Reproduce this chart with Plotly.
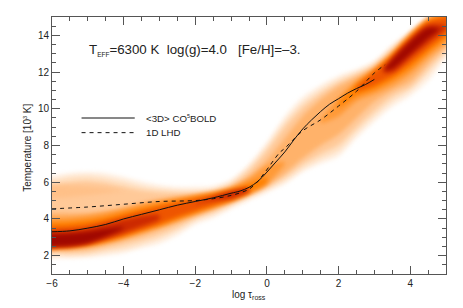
import plotly.graph_objects as go

# Reference lines
solid_x = [-6, -5.5, -5, -4.5, -4, -3.5, -3, -2.5, -2, -1.5, -1, -0.75, -0.5, -0.25, 0, 0.25, 0.5, 0.75, 1, 1.25, 1.5, 1.75, 2, 2.25, 2.5, 2.75, 3]
solid_t = [3.3, 3.35, 3.5, 3.7, 4.0, 4.25, 4.5, 4.75, 4.95, 5.15, 5.4, 5.52, 5.72, 6.05, 6.55, 7.1, 7.65, 8.3, 8.9, 9.4, 9.85, 10.25, 10.55, 10.85, 11.1, 11.32, 11.6]
dash_x = [-6, -5, -4, -3, -2, -1.5, -1, -0.75, -0.5, -0.3, -0.07, 0.35, 0.5, 1, 1.5, 2, 2.5, 3, 3.3]
dash_t = [4.55, 4.65, 4.8, 4.95, 5.0, 5.1, 5.28, 5.42, 5.62, 5.95, 6.5, 7.6, 7.85, 8.8, 9.4, 10.15, 10.95, 11.95, 12.4]

# Density band: lower and upper temperature of each colour level, per log tau
x_all = [-6.5, -6, -5.5, -5, -4.5, -4, -3.5, -3, -2.5, -2, -1.5, -1, -0.5, 0, 0.5, 1, 1.5, 2, 2.5, 3, 3.5, 4, 4.5, 5, 5.5]
l1_low = [1.8, 1.85, 1.85, 1.9, 2.0, 2.15, 2.4, 2.65, 3.1, 3.7, 4.05, 4.55, 5.0, 5.45, 5.9, 6.55, 7.0, 7.4, 8.4, 9.3, 10.1, 10.7, 11.5, 12.8, 13.8]
l1_high = [6.3, 6.35, 6.5, 6.55, 6.5, 6.3, 6.05, 5.85, 5.75, 5.75, 5.8, 6.15, 7.0, 8.2, 9.6, 10.65, 11.3, 11.8, 12.15, 12.6, 13.5, 14.25, 15.1, 16, 17]
l2_low = [1.95, 2.0, 2.0, 2.05, 2.2, 2.35, 2.6, 2.9, 3.35, 3.9, 4.25, 4.7, 5.15, 5.6, 6.1, 6.75, 7.25, 7.7, 8.7, 9.6, 10.4, 11.0, 11.9, 13.0, 14]
l2_high = [6.1, 6.15, 6.3, 6.35, 6.25, 6.05, 5.8, 5.65, 5.55, 5.55, 5.65, 6.0, 6.8, 7.95, 9.3, 10.35, 11.05, 11.6, 12.0, 12.5, 13.35, 14.15, 15.0, 15.8, 16.8]
l3_low = [2.1, 2.15, 2.15, 2.2, 2.4, 2.6, 2.85, 3.15, 3.55, 4.05, 4.4, 4.85, 5.3, 5.75, 6.3, 7.0, 7.55, 8.05, 9.0, 9.9, 10.7, 11.2, 12.2, 13.2, 14.2]
l3_high = [5.85, 5.9, 6.0, 6.05, 5.95, 5.75, 5.55, 5.45, 5.4, 5.4, 5.5, 5.85, 6.6, 7.7, 9.0, 10.05, 10.8, 11.4, 11.85, 12.35, 13.2, 14.1, 14.95, 15.6, 16.6]
l4_low = [2.25, 2.3, 2.3, 2.4, 2.6, 2.85, 3.1, 3.45, 3.8, 4.2, 4.55, 4.95, 5.4, 5.85, 6.5, 7.3, 8.0, 8.6, 9.5, 10.4, 11.0, 11.5, 12.5, 13.4, 14.4]
l4_high = [4.25, 4.3, 4.3, 4.3, 4.4, 4.6, 4.85, 5.0, 5.15, 5.25, 5.4, 5.7, 6.3, 7.2, 8.4, 9.6, 10.5, 11.2, 11.7, 12.25, 13.1, 14.05, 14.9, 15.5, 16.5]

lobe_x = [-6.5, -6, -5.5, -5, -4.5, -4]
lobe_low = [5.1, 5.15, 5.2, 5.3, 5.4, 5.55]
lobe_high = [5.8, 5.8, 5.8, 5.75, 5.65, 5.55]

x_left5 = [-6.5, -6, -5.5, -5, -4.5, -4, -3.5, -3, -2.5, -2, -1.5, -1, -0.5, 0, 0.5]
l5a_low = [2.3, 2.35, 2.4, 2.5, 2.7, 2.95, 3.25, 3.55, 3.9, 4.25, 4.6, 4.95, 5.35, 5.9, 7.0]
l5a_high = [4.0, 4.05, 4.1, 4.2, 4.35, 4.55, 4.8, 5.0, 5.15, 5.3, 5.45, 5.7, 6.2, 6.9, 7.1]
x_right5 = [1.5, 2, 2.5, 3, 3.5, 4, 4.5, 5, 5.5]
l5b_low = [9.2, 9.6, 10.4, 10.8, 11.25, 11.9, 12.8, 13.6, 14.6]
l5b_high = [9.4, 10.6, 11.5, 12.15, 13.0, 14.0, 14.85, 15.4, 16.4]

x_left6 = [-6.5, -6, -5.5, -5, -4.5, -4, -3.5, -3, -2.5, -2, -1.5, -1, -0.5, 0]
l6a_low = [2.4, 2.42, 2.47, 2.58, 2.78, 3.03, 3.35, 3.65, 4.0, 4.35, 4.68, 5.0, 5.42, 6.0]
l6a_high = [3.75, 3.8, 3.85, 3.95, 4.12, 4.35, 4.6, 4.82, 5.02, 5.2, 5.38, 5.62, 5.95, 6.25]
x_right6 = [2, 2.5, 3, 3.5, 4, 4.5, 5, 5.5]
l6b_low = [10.05, 10.7, 11.05, 11.55, 12.2, 13.05, 13.85, 14.85]
l6b_high = [10.35, 11.35, 12.1, 12.95, 13.95, 14.8, 15.2, 16.2]

x_left7 = [-6.5, -6, -5.5, -5, -4.5, -4, -3.5, -3, -2.5, -2, -1.5, -1, -0.5]
l7a_low = [2.45, 2.47, 2.52, 2.63, 2.85, 3.12, 3.42, 3.75, 4.12, 4.45, 4.76, 5.07, 5.5]
l7a_high = [3.5, 3.55, 3.6, 3.7, 3.9, 4.15, 4.4, 4.65, 4.88, 5.08, 5.28, 5.52, 5.7]
x_right7 = [2.5, 3, 3.5, 4, 4.5, 5, 5.5]
l7b_low = [10.95, 11.3, 11.8, 12.5, 13.3, 14.1, 15]
l7b_high = [11.2, 12.0, 12.85, 13.85, 14.7, 15.0, 15.1]

x_left8 = [-6.5, -6, -5.5, -5, -4.5, -4, -3.5, -3]
l8a_low = [2.42, 2.45, 2.5, 2.65, 2.93, 3.25, 3.6, 4.0]
l8a_high = [3.25, 3.3, 3.35, 3.47, 3.7, 3.95, 4.15, 4.2]
x_mid8 = [-2, -1.5, -1, -0.5]
l8m_low = [4.8, 5.0, 5.12, 5.55]
l8m_high = [4.85, 5.2, 5.5, 5.65]
x_right8 = [3.25, 3.5, 4, 4.5, 5]
l8b_low = [11.95, 12.0, 12.8, 13.6, 14.4]
l8b_high = [12.0, 12.75, 13.75, 14.55, 14.5]

x_left9 = [-6.5, -6, -5.5, -5, -4.5, -4]
l9a_low = [2.47, 2.5, 2.55, 2.7, 3.05, 3.5]
l9a_high = [3.1, 3.15, 3.2, 3.3, 3.45, 3.55]
x_right9 = [3.25, 3.5, 4, 4.5, 4.8]
l9b_low = [12.1, 12.2, 13.0, 13.85, 14.3]
l9b_high = [12.15, 12.65, 13.65, 14.4, 14.35]

bands = [
    (x_all, l1_low, l1_high, "#fff0e2"),
    (x_all, l2_low, l2_high, "#ffdfc0"),
    (x_all, l3_low, l3_high, "#ffc998"),
    (lobe_x, lobe_low, lobe_high, "#ffc088"),
    (x_all, l4_low, l4_high, "#ffb26a"),
    (x_left5, l5a_low, l5a_high, "#ff9a38"),
    (x_right5, l5b_low, l5b_high, "#ff9a38"),
    (x_left6, l6a_low, l6a_high, "#ff8000"),
    (x_right6, l6b_low, l6b_high, "#ff8000"),
    (x_left7, l7a_low, l7a_high, "#ee5500"),
    (x_right7, l7b_low, l7b_high, "#ee5500"),
    (x_left8, l8a_low, l8a_high, "#cc2a00"),
    (x_mid8, l8m_low, l8m_high, "#cc2a00"),
    (x_right8, l8b_low, l8b_high, "#cc2a00"),
    (x_left9, l9a_low, l9a_high, "#a00800"),
    (x_right9, l9b_low, l9b_high, "#a00800"),
]

fig = go.Figure()
for xs, low, high, color in bands:
    fig.add_trace(go.Scatter(
        x=list(xs) + list(xs)[::-1],
        y=list(low) + list(high)[::-1],
        mode="lines", fill="toself", fillcolor=color,
        line=dict(color=color, width=0, shape="spline", smoothing=0.8),
        hoverinfo="skip", showlegend=False))

fig.add_trace(go.Scatter(x=solid_x, y=solid_t, mode="lines", showlegend=False, hoverinfo="skip",
                         line=dict(color="#111111", width=1, shape="spline")))
fig.add_trace(go.Scatter(x=dash_x, y=dash_t, mode="lines", showlegend=False, hoverinfo="skip",
                         line=dict(color="#111111", width=1, shape="spline", dash="4px,4px")))

axis_color = "#555555"
common = dict(showgrid=False, zeroline=False, showline=True, linecolor=axis_color, linewidth=1,
              ticks="inside", tickcolor=axis_color, ticklen=8, tickwidth=1, mirror="allticks",
              automargin=False, tickfont=dict(size=10, color="#222222"),
              minor=dict(ticks="inside", dtick=0.5, ticklen=4, tickcolor=axis_color, tickwidth=1))
fig.update_xaxes(range=[-6, 5], tickvals=[-6, -4, -2, 0, 2, 4], ticktext=["\u22126", "\u22124", "\u22122", "0", "2", "4"], **common)
fig.update_yaxes(range=[1, 15], tickvals=[2, 4, 6, 8, 10, 12, 14], **common)

note = dict(xref="paper", yref="paper", showarrow=False)
fig.add_annotation(x=0.5, y=-0.08, xanchor="center", yanchor="middle", text="log \u03c4<sub>ross</sub>",
                   font=dict(size=10, color="#222222"), **note)
fig.add_annotation(x=-0.064, y=0.49, xanchor="center", yanchor="middle", textangle=-90,
                   text="Temperature [10<sup><span style=\"font-size:5.5px\">3</span></sup> K]",
                   font=dict(size=10, color="#222222"), **note)
fig.add_annotation(x=0.09, y=0.87, xanchor="left", yanchor="middle",
                   text="T<sub><span style=\"font-size:6.5px\">EFF</span></sub>=6300 K  log(g)=4.0   [Fe/H]=\u20133.",
                   font=dict(size=13.3, color="#222222"), **note)
fig.add_annotation(x=0.233, y=0.607, xanchor="left", yanchor="middle",
                   text="&lt;3D&gt; CO<sup><span style=\"font-size:5.5px\">5</span></sup>BOLD",
                   font=dict(size=9.7, color="#222222"), **note)
fig.add_annotation(x=0.233, y=0.55, xanchor="left", yanchor="middle",
                   text="1D LHD", font=dict(size=9.7, color="#222222"), **note)
fig.add_shape(type="line", xref="paper", yref="paper", x0=0.075, x1=0.21, y0=0.607, y1=0.607,
              line=dict(color="#111111", width=1))
fig.add_shape(type="line", xref="paper", yref="paper", x0=0.075, x1=0.21, y0=0.55, y1=0.55,
              line=dict(color="#111111", width=1, dash="4px,4px"))

fig.update_layout(
    width=463, height=308, autosize=False,
    margin=dict(l=52.3, r=16.7, t=16.5, b=33.7, pad=0),
    paper_bgcolor="white", plot_bgcolor="white", showlegend=False,
    font=dict(family="Liberation Sans, Arial, sans-serif", color="#222222"),
)

soften = """
document.body.style.margin='0';
var gd = document.querySelector('.js-plotly-plot');
var svg = gd.querySelector('svg.main-svg');
var ns = 'http://www.w3.org/2000/svg';
var f = document.createElementNS(ns, 'filter');
f.setAttribute('id', 'bandsoft');
f.setAttribute('filterUnits', 'userSpaceOnUse');
f.setAttribute('x', '-100'); f.setAttribute('y', '-100');
f.setAttribute('width', '800'); f.setAttribute('height', '600');
f.setAttribute('color-interpolation-filters', 'sRGB');
var b = document.createElementNS(ns, 'feGaussianBlur');
b.setAttribute('stdDeviation', '2.2');
f.appendChild(b);
var defs = svg.querySelector('defs') || svg.insertBefore(document.createElementNS(ns, 'defs'), svg.firstChild);
defs.appendChild(f);
gd.querySelectorAll('.scatterlayer .js-fill').forEach(function (p) { p.setAttribute('filter', 'url(#bandsoft)'); });
"""
fig.write_html("out.html", config={"displayModeBar": False}, post_script=soften)
